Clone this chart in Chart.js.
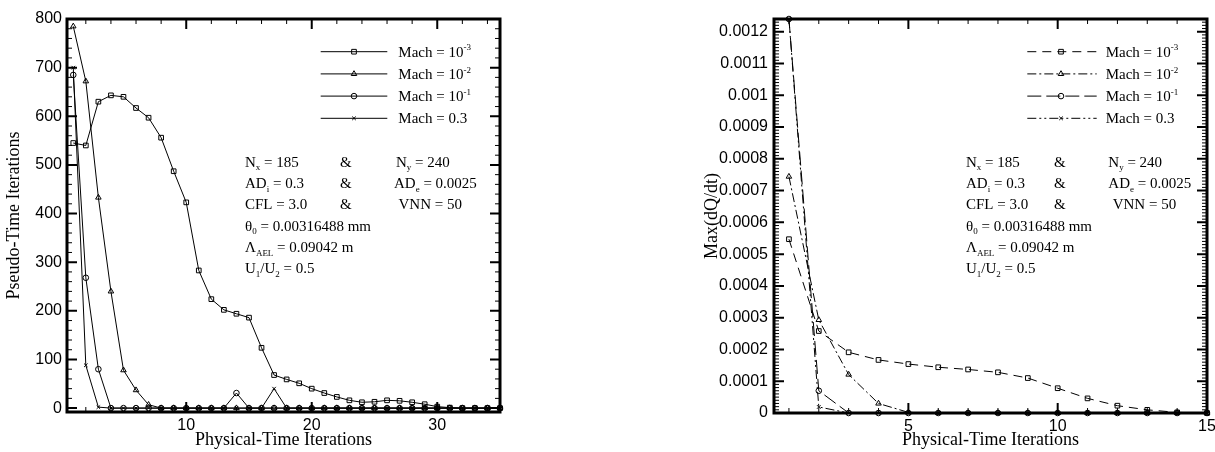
<!DOCTYPE html>
<html><head><meta charset="utf-8">
<script src="https://cdn.jsdelivr.net/npm/chart.js@4/dist/chart.umd.min.js"></script>
<style>
html,body{margin:0;padding:0;background:#fff;width:1215px;height:452px;overflow:hidden;position:relative}
#c1{position:absolute;left:0;top:0}
#c2{position:absolute;left:680px;top:0}
</style></head><body>
<canvas id="c1" width="520" height="452" style="width:520px;height:452px"></canvas>
<canvas id="c2" width="540" height="452" style="width:540px;height:452px"></canvas>
<script>
// ---------- DATA ----------
const seriesNames = ['Mach = 10^{-3}', 'Mach = 10^{-2}', 'Mach = 10^{-1}', 'Mach = 0.3'];

// Left chart: Pseudo-Time Iterations vs Physical-Time Iterations
const leftIterations = [1,2,3,4,5,6,7,8,9,10,11,12,13,14,15,16,17,18,19,20,21,22,23,24,25,26,27,28,29,30,31,32,33,34,35];
const leftMach1e3 = [545,540,630,643,640,617,597,556,487,423,283,224,202,194,186,124,68,59,51,40,31,23,16,12,13,16,15,12,8,3,1,0,0,0,0];
const leftMach1e2 = [785,672,433,240,78,37,7,0,0,0,0,0,0,0,0,0,0,0,0,0,0,0,0,0,0,0,0,0,0,0,0,0,0,0,0];
const leftMach1e1 = [685,268,80,0,0,0,0,0,0,0,0,0,0,31,0,0,0,0,0,0,0,0,0,0,0,0,0,0,0,0,0,0,0,0,0];
const leftMach03  = [700,88,2,0,0,0,0,0,0,0,0,0,0,0,0,0,40,0,0,0,0,0,0,0,0,0,0,0,0,0,0,0,0,0,0];
const leftXTicks = [10, 20, 30];
const leftYTicks = [0, 100, 200, 300, 400, 500, 600, 700, 800];

// Right chart: Max(dQ/dt) vs Physical-Time Iterations
const rightIterations = [1,2,3,4,5,6,7,8,9,10,11,12,13,14,15];
const rightMach1e3 = [0.000547,0.000258,0.000191,0.000167,0.000154,0.000144,0.000137,0.000128,0.000110,0.000078,0.000046,0.000023,0.000010,0.000002,0];
const rightMach1e2 = [0.000744,0.000293,0.000121,0.000030,0.000002,0,0,0,0,0,0,0,0,0,0];
const rightMach1e1 = [0.00124,0.000070,0,0,0,0,0,0,0,0,0,0,0,0,0];
const rightMach03  = [0.00124,0.000019,0,0,0,0,0,0,0,0,0,0,0,0,0];
const rightXTicks = [5, 10, 15];
const rightYTicks = [0,0.0001,0.0002,0.0003,0.0004,0.0005,0.0006,0.0007,0.0008,0.0009,0.001,0.0011,0.0012];
const rightYTickLabels = ['0','0.0001','0.0002','0.0003','0.0004','0.0005','0.0006','0.0007','0.0008','0.0009','0.001','0.0011','0.0012'];

const annotationRows = [
  ['N_{x} = 185', '&', 'N_{y} = 240'],
  ['AD_{i} = 0.3', '&', 'AD_{e} = 0.0025'],
  ['CFL = 3.0', '&', 'VNN = 50'],
  ['\u03B8_{0} = 0.00316488 mm'],
  ['\u039B_{AEL} = 0.09042 m'],
  ['U_{1}/U_{2} = 0.5']
];

// ---------- HELPERS ----------
const SANS = '"Liberation Sans", Arial, Helvetica, sans-serif';
const SERIF = '"Liberation Serif", "Times New Roman", Times, serif';

function drawRich(ctx, str, x, y, size) {
  const re = /([_^])\{([^}]*)\}/g;
  let last = 0, m;
  const parts = [];
  while ((m = re.exec(str))) {
    if (m.index > last) parts.push({t: str.slice(last, m.index), k: ''});
    parts.push({t: m[2], k: m[1]});
    last = re.lastIndex;
  }
  if (last < str.length) parts.push({t: str.slice(last), k: ''});
  let cx = x;
  ctx.textBaseline = 'alphabetic';
  ctx.textAlign = 'left';
  for (const p of parts) {
    let fs = size, dy = 0;
    if (p.k === '_') { fs = size * 0.6; dy = size * 0.25; }
    if (p.k === '^') { fs = size * 0.6; dy = -size * 0.42; }
    ctx.font = fs + 'px ' + SERIF;
    ctx.fillText(p.t, cx, y + dy);
    cx += ctx.measureText(p.t).width;
  }
}

function drawMarker(ctx, style, r, x, y) {
  ctx.save();
  ctx.fillStyle = 'rgba(0,0,0,0)';
  ctx.strokeStyle = '#000';
  ctx.lineWidth = 1;
  ctx.setLineDash([]);
  if (Chart.helpers && Chart.helpers.drawPoint) {
    Chart.helpers.drawPoint(ctx, {pointStyle: style, radius: r, rotation: 0, borderWidth: 1}, x, y);
  } else {
    ctx.beginPath(); ctx.arc(x, y, r, 0, Math.PI * 2); ctx.stroke();
  }
  ctx.restore();
}

const framePlugin = {
  id: 'frame',
  afterDatasetsDraw(chart, args, o) {
    const {ctx, chartArea: a, scales} = chart;
    const xs = scales.x, ys = scales.y;
    ctx.save();
    ctx.strokeStyle = '#000';
    ctx.setLineDash([]);
    const tickX = (vals, len, lw) => {
      ctx.lineWidth = lw;
      for (const v of vals) {
        const px = xs.getPixelForValue(v);
        ctx.beginPath();
        ctx.moveTo(px, a.bottom); ctx.lineTo(px, a.bottom - len);
        ctx.moveTo(px, a.top); ctx.lineTo(px, a.top + len);
        ctx.stroke();
      }
    };
    const tickY = (vals, len, lw) => {
      ctx.lineWidth = lw;
      for (const v of vals) {
        const py = ys.getPixelForValue(v);
        ctx.beginPath();
        ctx.moveTo(a.left, py); ctx.lineTo(a.left + len, py);
        ctx.moveTo(a.right, py); ctx.lineTo(a.right - len, py);
        ctx.stroke();
      }
    };
    tickX(o.xMinor, 5, 1);
    tickY(o.yMinor, 5, 1);
    tickX(o.xMajor, 10, 2);
    tickY(o.yMajor, 10, 2);
    ctx.lineWidth = 3;
    ctx.strokeRect(a.left, a.top, a.right - a.left, a.bottom - a.top);
    ctx.restore();
  },
  afterDraw(chart, args, o) {
    const ctx = chart.ctx;
    ctx.save();
    ctx.fillStyle = '#000';
    const L = o.legend;
    chart.data.datasets.forEach((ds, i) => {
      const y = L.y0 + i * L.dy;
      ctx.save();
      ctx.strokeStyle = '#000';
      ctx.lineWidth = 1;
      ctx.setLineDash(ds.borderDash || []);
      ctx.beginPath(); ctx.moveTo(L.x1, y); ctx.lineTo(L.x2, y); ctx.stroke();
      ctx.restore();
      drawMarker(ctx, ds.pointStyle, ds.pointRadius, L.xm, y);
      ctx.fillStyle = '#000';
      drawRich(ctx, ds.label, L.xt, y + 5, 15);
    });
    const A = o.annot;
    annotationRows.forEach((row, r) => {
      const y = A.y0 + r * A.dy + 5;
      row.forEach((txt, c) => drawRich(ctx, txt, A.cols[r][c], y, 15));
    });
    ctx.restore();
  }
};
Chart.register(framePlugin);

function mk(label, xs, ys, style, r, dash) {
  return {
    label, data: xs.map((x, i) => ({x, y: ys[i]})),
    borderColor: '#000', borderWidth: 1, borderDash: dash,
    pointStyle: style, pointRadius: r, pointBorderWidth: 1,
    pointBorderColor: '#000', pointBackgroundColor: 'rgba(0,0,0,0)',
    backgroundColor: 'rgba(0,0,0,0)', tension: 0, fill: false, clip: false
  };
}

function range(a, b, s) { const out = []; for (let v = a; v <= b + s / 1000; v += s) out.push(+v.toFixed(8)); return out; }

function axisX(min, max, ticks, height) {
  return {
    type: 'linear', min, max,
    afterBuildTicks: s => { s.ticks = ticks.map(v => ({value: v})); },
    afterFit: s => { s.height = height; },
    grid: {display: false, drawTicks: false}, border: {display: false},
    ticks: {padding: 4, color: '#000', autoSkip: false, maxRotation: 0, font: {family: SANS, size: 16}, callback: v => String(v)},
    title: {display: true, text: 'Physical-Time Iterations', color: '#000', font: {family: SERIF, size: 18, lineHeight: 1.2}, padding: {top: 0, bottom: 1}}
  };
}
function axisY(min, max, ticks, labels, width, pad, title, titlePad) {
  return {
    type: 'linear', min, max,
    afterBuildTicks: s => { s.ticks = ticks.map(v => ({value: v})); },
    afterFit: s => { s.width = width; },
    grid: {display: false, drawTicks: false}, border: {display: false},
    ticks: {padding: pad, color: '#000', autoSkip: false, font: {family: SANS, size: 16}, callback: (v, i) => labels[i]},
    title: {display: true, text: title, color: '#000', font: {family: SERIF, size: 18, lineHeight: 1.2}, padding: {top: titlePad, bottom: 0}}
  };
}

// ---------- LEFT CHART ----------
new Chart(document.getElementById('c1'), {
  type: 'line',
  data: {datasets: [
    mk(seriesNames[0], leftIterations, leftMach1e3, 'rect', 3.3, []),
    mk(seriesNames[1], leftIterations, leftMach1e2, 'triangle', 3.2, []),
    mk(seriesNames[2], leftIterations, leftMach1e1, 'circle', 2.8, []),
    mk(seriesNames[3], leftIterations, leftMach03, 'crossRot', 2.5, [])
  ]},
  options: {
    responsive: false, animation: false, devicePixelRatio: 1,
    layout: {padding: {top: 19, right: 20, left: 0, bottom: 0}},
    plugins: {
      legend: {display: false}, tooltip: {enabled: false},
      frame: {
        xMajor: leftXTicks, xMinor: range(2, 34, 2).filter(v => v % 10 !== 0),
        yMajor: leftYTicks, yMinor: range(0, 800, 20).filter(v => v % 100 !== 0),
        legend: {x1: 320.7, x2: 387.3, xm: 354, xt: 398.3, y0: 51.7, dy: 22.2},
        annot: {y0: 161.7, dy: 21.3, cols: [[245, 340, 396], [245, 340, 394], [245, 340, 398.5], [245], [245], [245]]}
      }
    },
    scales: {
      x: axisX(0.5, 35, leftXTicks, 40),
      y: axisY(-8, 800, leftYTicks, leftYTicks.map(String), 67, 5, 'Pseudo-Time Iterations', 3)
    }
  }
});

// ---------- RIGHT CHART ----------
new Chart(document.getElementById('c2'), {
  type: 'line',
  data: {datasets: [
    mk(seriesNames[0], rightIterations, rightMach1e3, 'rect', 3.3, [9, 6]),
    mk(seriesNames[1], rightIterations, rightMach1e2, 'triangle', 3.2, [9, 3, 2, 3]),
    mk(seriesNames[2], rightIterations, rightMach1e1, 'circle', 2.8, [14, 5]),
    mk(seriesNames[3], rightIterations, rightMach03, 'crossRot', 2.5, [9, 3, 2, 3, 2, 3])
  ]},
  options: {
    responsive: false, animation: false, devicePixelRatio: 1,
    layout: {padding: {top: 19, right: 13, left: 0, bottom: 0}},
    plugins: {
      legend: {display: false}, tooltip: {enabled: false},
      frame: {
        xMajor: rightXTicks, xMinor: range(1, 14, 1).filter(v => v % 5 !== 0),
        yMajor: rightYTicks, yMinor: range(0, 0.00124, 0.00001).filter(v => Math.abs(v * 10000 - Math.round(v * 10000)) > 1e-6),
        legend: {x1: 347.3, x2: 416.7, xm: 381, xt: 425.7, y0: 51.7, dy: 22.2},
        annot: {y0: 161.7, dy: 21.3, cols: [[286, 374, 428.3], [286, 374, 428.3], [286, 374, 432.7], [286], [286], [286]]}
      }
    },
    scales: {
      x: axisX(0.5, 15, rightXTicks, 39),
      y: axisY(0, 0.00124, rightYTicks, rightYTickLabels, 94, 6, 'Max(dQ/dt)', 21)
    }
  }
});
</script>
</body></html>
